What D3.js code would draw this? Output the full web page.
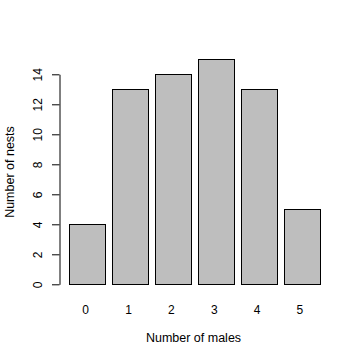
<!DOCTYPE html>
<html><head><meta charset="utf-8">
<script src="https://cdn.jsdelivr.net/npm/d3@7"></script>
<style>body{margin:0;background:#fff}svg{display:block}text{font-family:"Liberation Sans",Arial,sans-serif;fill:#000}</style>
</head><body>
<script>
const categories = ["0","1","2","3","4","5"];
const counts = [4,13,14,15,13,5];
const yTicks = [0,2,4,6,8,10,12,14];
const xTitle = "Number of males";
const yTitle = "Number of nests";

const W=360,H=360;
const svg=d3.select("body").append("svg").attr("width",W).attr("height",H);
svg.append("rect").attr("width",W).attr("height",H).attr("fill","#fff");

const x=d3.scaleBand().domain(categories).range([69.3,319.3]).paddingInner(1/6).paddingOuter(0);
const y=d3.scaleLinear().domain([0,15]).range([284.3,59.3]);

svg.append("g").selectAll("rect").data(counts).join("rect")
  .attr("x",(d,i)=>Math.round(x(categories[i]))+0.5)
  .attr("width",Math.round(x.bandwidth()))
  .attr("y",d=>Math.round(y(d))+0.5)
  .attr("height",d=>Math.round(y(0))-Math.round(y(d)))
  .attr("fill","#bebebe").attr("stroke","#000").attr("stroke-width",1);

const yAxisScale=y.copy().domain([0,14]).range([y(0),y(14)]);
const ya=svg.append("g").attr("transform","translate(59.5,0)")
  .call(d3.axisLeft(yAxisScale).tickValues(yTicks).tickSize(7.5).tickSizeOuter(0).tickFormat(d3.format("d")));
ya.select(".domain").attr("stroke","#000");
ya.selectAll(".tick line").attr("stroke","#000");
ya.selectAll(".tick text").attr("font-size",12).attr("font-family","Liberation Sans, Arial, sans-serif")
  .attr("text-anchor","middle").attr("x",0).attr("y",-18).attr("dy",null).attr("transform","rotate(-90)");

svg.append("g").selectAll("text").data(categories).join("text")
  .attr("x",d=>x(d)+x.bandwidth()/2-1.5).attr("y",313.5)
  .attr("text-anchor","middle").attr("font-size",12).text(d=>d);

svg.append("text").attr("x",193.5).attr("y",341.7).attr("text-anchor","middle").attr("font-size",12.5).text(xTitle);
svg.append("text").attr("transform","translate(13.5,172) rotate(-90)").attr("text-anchor","middle").attr("font-size",12.5).text(yTitle);
</script>
</body></html>
